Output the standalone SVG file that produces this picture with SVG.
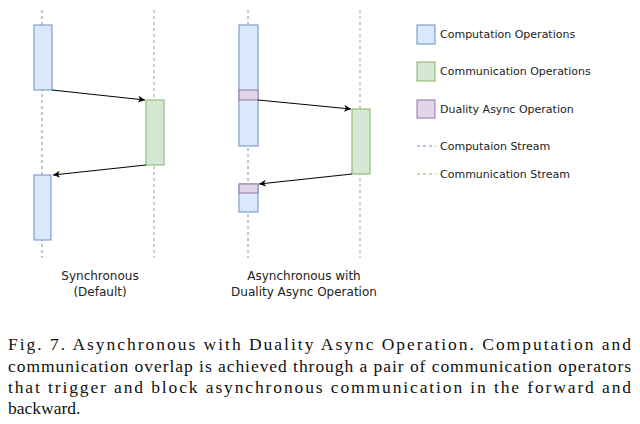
<svg xmlns="http://www.w3.org/2000/svg" width="640" height="424" viewBox="0 0 640 424">
<style>
.comp{fill:#dae8fc;stroke:#6c8ebf;stroke-width:1}
.comm{fill:#d5e8d4;stroke:#82b366;stroke-width:1}
.dual{fill:#e1d5e7;stroke:#9673a6;stroke-width:1}
.bs{stroke:#6c8ebf;stroke-dasharray:3 3;stroke-width:1}
.gs{stroke:#82b366;stroke-dasharray:3 3;stroke-width:1}
.t{font-family:"DejaVu Sans",sans-serif;font-size:11px;fill:#222}
.l{font-family:"DejaVu Sans",sans-serif;font-size:12px;fill:#222;text-anchor:middle}
.c{font-family:"Liberation Serif",serif;font-size:17.5px;fill:#111}
.a{stroke:#000;stroke-width:1;fill:none;marker-end:url(#ah)}
</style>
<defs><marker id="ah" markerWidth="8" markerHeight="8" refX="7" refY="4" orient="auto" markerUnits="userSpaceOnUse"><path d="M0,0.5 L7,4 L0,7.5 L2,4 Z" fill="#000"/></marker></defs>
<g id="streams">
<line class="bs" x1="42" y1="10" x2="42" y2="258"/>
<line class="gs" x1="154" y1="10" x2="154" y2="258"/>
<line class="bs" x1="248" y1="10" x2="248" y2="258"/>
<line class="gs" x1="360" y1="10" x2="360" y2="258"/>
</g>
<g id="sync-comp1"><rect class="comp" x="34" y="25" width="18" height="65"/></g>
<g id="sync-comm"><rect class="comm" x="146" y="100" width="18" height="65"/></g>
<g id="sync-comp2"><rect class="comp" x="34" y="175" width="17" height="65"/></g>
<g id="async-comp1"><rect class="comp" x="239" y="25" width="19" height="121"/><rect class="dual" x="239" y="90" width="19" height="10"/></g>
<g id="async-comm"><rect class="comm" x="352" y="109" width="18" height="65"/></g>
<g id="async-comp2"><rect class="comp" x="239" y="184" width="19" height="28"/><rect class="dual" x="239" y="184" width="19" height="9"/></g>
<g id="connectors">
<line class="a" x1="52" y1="90" x2="145" y2="100"/>
<line class="a" x1="146" y1="165" x2="53" y2="175"/>
<line class="a" x1="258" y1="100" x2="351" y2="109"/>
<line class="a" x1="352" y1="174" x2="259" y2="184"/>
</g>
<g id="labels">
<text class="l" x="100" y="280">Synchronous</text>
<text class="l" x="100" y="296">(Default)</text>
<text class="l" x="304" y="280">Asynchronous with</text>
<text class="l" x="304" y="296">Duality Async Operation</text>
</g>
<g id="legend">
<rect class="comp" x="417" y="25" width="18" height="19"/><text class="t" x="440" y="38">Computation Operations</text>
<rect class="comm" x="417" y="62" width="18" height="19"/><text class="t" x="440" y="75">Communication Operations</text>
<rect class="dual" x="417" y="100" width="18" height="18"/><text class="t" x="440" y="113">Duality Async Operation</text>
<line class="bs" x1="417" y1="146" x2="436" y2="146"/><text class="t" x="440" y="150">Computaion Stream</text>
<line class="gs" x1="417" y1="174" x2="436" y2="174"/><text class="t" x="440" y="178">Communication Stream</text>
</g>
<g id="caption">
<text class="c" x="8" y="350" textLength="623" lengthAdjust="spacing">Fig. 7.   Asynchronous with Duality Async Operation. Computation and</text>
<text class="c" x="8" y="372" textLength="623" lengthAdjust="spacing">communication overlap is achieved through a pair of communication operators</text>
<text class="c" x="8" y="393" textLength="623" lengthAdjust="spacing">that trigger and block asynchronous communication in the forward and</text>
<text class="c" x="8" y="414">backward.</text>
</g>
</svg>
